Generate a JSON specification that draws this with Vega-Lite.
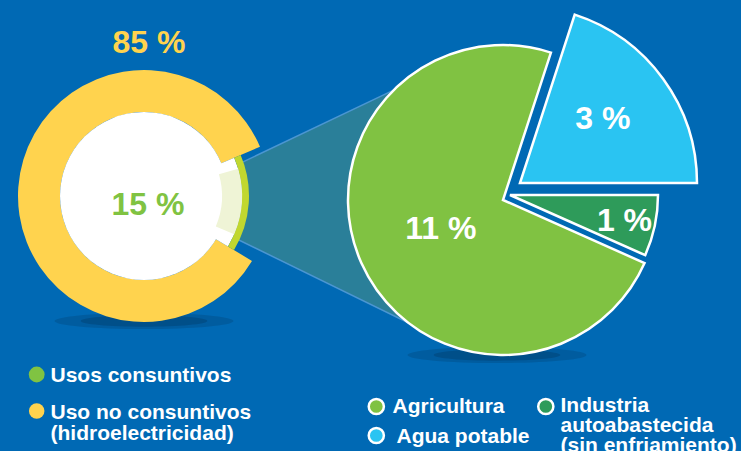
{
  "$schema": "https://vega.github.io/schema/vega-lite/v6.json",
  "width": 741,
  "height": 451,
  "autosize": {"type": "none"},
  "padding": 0,
  "background": "#0069b4",
  "config": {"view": {"stroke": null}, "text": {"font": "Liberation Sans", "fontWeight": "bold"}},
  "datasets": {
    "uso": [
      {"uso": "Uso no consuntivos (hidroelectricidad)", "porcentaje": 85},
      {"uso": "Usos consuntivos", "porcentaje": 15}
    ],
    "consuntivo": [
      {"sector": "Agricultura", "porcentaje": 11},
      {"sector": "Agua potable", "porcentaje": 3},
      {"sector": "Industria autoabastecida (sin enfriamiento)", "porcentaje": 1}
    ]
  },
  "data": {"values": [{}]},
  "layer": [
    {"mark": {"type": "point", "shape": "M-1,0A1,0.09,0,1,1,1,0A1,0.09,0,1,1,-1,0Z", "x": 144, "y": 321, "size": 32000, "filled": true, "fill": "#003660", "opacity": 0.25, "strokeWidth": 0}},
    {"mark": {"type": "point", "shape": "M-1,0A1,0.09,0,1,1,1,0A1,0.09,0,1,1,-1,0Z", "x": 144, "y": 321, "size": 16000, "filled": true, "fill": "#003660", "opacity": 0.35, "strokeWidth": 0}},
    {"mark": {"type": "point", "shape": "M-1,0A1,0.09,0,1,1,1,0A1,0.09,0,1,1,-1,0Z", "x": 497, "y": 355, "size": 32000, "filled": true, "fill": "#003660", "opacity": 0.25, "strokeWidth": 0}},
    {"mark": {"type": "point", "shape": "M-1,0A1,0.09,0,1,1,1,0A1,0.09,0,1,1,-1,0Z", "x": 497, "y": 355, "size": 16000, "filled": true, "fill": "#003660", "opacity": 0.35, "strokeWidth": 0}},
    {"mark": {"type": "arc", "x": 160, "y": 201.5, "theta": 1.126, "theta2": 2.025, "innerRadius": 60, "outerRadius": 300, "fill": "#2a7f99", "stroke": "#4b96d2", "strokeWidth": 1.5}},
    {
      "data": {"name": "uso"},
      "transform": [
        {"stack": "porcentaje", "groupby": [], "sort": [{"field": "porcentaje", "order": "descending"}], "as": ["t0", "t1"]},
        {"filter": "datum.uso == 'Uso no consuntivos (hidroelectricidad)'"}
      ],
      "mark": {"type": "arc", "x": 144, "y": 196, "innerRadius": 84, "outerRadius": 126},
      "encoding": {
        "theta": {"field": "t0", "type": "quantitative", "scale": {"domain": [0, 100], "range": [2.112, 8.395]}},
        "theta2": {"field": "t1"},
        "color": {"field": "uso", "type": "nominal", "legend": null,
          "scale": {"domain": ["Uso no consuntivos (hidroelectricidad)", "Usos consuntivos", "Agricultura", "Agua potable", "Industria autoabastecida (sin enfriamiento)"], "range": ["#ffd34e", "#80c342", "#80c242", "#2ac4f2", "#2e9b5a"]}}
      }
    },
    {"mark": {"type": "arc", "x": 144, "y": 196, "theta": 0, "theta2": 6.2832, "innerRadius": 0, "outerRadius": 84, "fill": "#ffffff"}},
    {
      "data": {"name": "uso"},
      "transform": [
        {"stack": "porcentaje", "groupby": [], "sort": [{"field": "porcentaje", "order": "descending"}], "as": ["t0", "t1"]},
        {"filter": "datum.uso == 'Usos consuntivos'"}
      ],
      "layer": [
        {"mark": {"type": "arc", "x": 144, "y": 196, "innerRadius": 0, "outerRadius": 98, "fill": "#ffffff"},
          "encoding": {"theta": {"field": "t0", "type": "quantitative", "scale": {"domain": [0, 100], "range": [2.112, 8.395]}}, "theta2": {"field": "t1"}}},
        {"mark": {"type": "arc", "x": 144, "y": 196, "innerRadius": 98, "outerRadius": 105, "fill": "#c1d72f"},
          "encoding": {"theta": {"field": "t0", "type": "quantitative", "scale": {"domain": [0, 100], "range": [2.112, 8.395]}}, "theta2": {"field": "t1"}}},
        {"mark": {"type": "arc", "x": 144, "y": 196, "innerRadius": 78, "outerRadius": 98, "fill": "#eff4d6", "thetaOffset": 0.12, "theta2Offset": -0.14},
          "encoding": {"theta": {"field": "t0", "type": "quantitative", "scale": {"domain": [0, 100], "range": [2.112, 8.395]}}, "theta2": {"field": "t1"}}}
      ]
    },
    {
      "data": {"name": "consuntivo"},
      "transform": [
        {"stack": "porcentaje", "groupby": [], "sort": [{"field": "porcentaje", "order": "descending"}], "as": ["t0", "t1"]},
        {"calculate": "(datum.t0 + datum.t1) / 2", "as": "mid"},
        {"calculate": "datum.porcentaje + ' %'", "as": "etiqueta"}
      ],
      "layer": [
        {"transform": [{"filter": "datum.sector == 'Agricultura'"}],
          "mark": {"type": "arc", "x": 503, "y": 200, "outerRadius": 155, "innerRadius": 0, "stroke": "#ffffff", "strokeWidth": 2.5},
          "encoding": {"theta": {"field": "t0", "type": "quantitative", "scale": {"domain": [0, 15], "range": [1.99, 8.273]}}, "theta2": {"field": "t1"},
            "color": {"field": "sector", "type": "nominal", "legend": null,
              "scale": {"domain": ["Uso no consuntivos (hidroelectricidad)", "Usos consuntivos", "Agricultura", "Agua potable", "Industria autoabastecida (sin enfriamiento)"], "range": ["#ffd34e", "#80c342", "#80c242", "#2ac4f2", "#2e9b5a"]}}}},
        {"transform": [{"filter": "datum.sector == 'Agua potable'"}],
          "mark": {"type": "arc", "x": 520, "y": 183, "outerRadius": 177, "innerRadius": 0, "stroke": "#ffffff", "strokeWidth": 2.5},
          "encoding": {"theta": {"field": "t0", "type": "quantitative", "scale": {"domain": [0, 15], "range": [1.99, 8.273]}}, "theta2": {"field": "t1"},
            "color": {"field": "sector", "type": "nominal", "legend": null,
              "scale": {"domain": ["Uso no consuntivos (hidroelectricidad)", "Usos consuntivos", "Agricultura", "Agua potable", "Industria autoabastecida (sin enfriamiento)"], "range": ["#ffd34e", "#80c342", "#80c242", "#2ac4f2", "#2e9b5a"]}}}},
        {"transform": [{"filter": "datum.sector == 'Industria autoabastecida (sin enfriamiento)'"}],
          "mark": {"type": "arc", "x": 510, "y": 195, "outerRadius": 148, "innerRadius": 0, "stroke": "#ffffff", "strokeWidth": 2.5},
          "encoding": {"theta": {"field": "t0", "type": "quantitative", "scale": {"domain": [0, 15], "range": [1.99, 8.273]}}, "theta2": {"field": "t1"},
            "color": {"field": "sector", "type": "nominal", "legend": null,
              "scale": {"domain": ["Uso no consuntivos (hidroelectricidad)", "Usos consuntivos", "Agricultura", "Agua potable", "Industria autoabastecida (sin enfriamiento)"], "range": ["#ffd34e", "#80c342", "#80c242", "#2ac4f2", "#2e9b5a"]}}}},
        {"transform": [{"filter": "datum.sector == 'Agricultura'"}],
          "mark": {"type": "text", "x": 503, "y": 200, "radius": 68, "fontSize": 32, "color": "#ffffff", "align": "center", "baseline": "alphabetic", "dy": 11.5},
          "encoding": {"theta": {"field": "mid", "type": "quantitative", "stack": null, "scale": {"domain": [0, 15], "range": [1.99, 8.273]}}, "text": {"field": "etiqueta"}}},
        {"transform": [{"filter": "datum.sector == 'Agua potable'"}],
          "mark": {"type": "text", "x": 520, "y": 183, "radius": 106, "fontSize": 32, "color": "#ffffff", "align": "center", "baseline": "alphabetic", "dy": 8, "dx": -3},
          "encoding": {"theta": {"field": "mid", "type": "quantitative", "stack": null, "scale": {"domain": [0, 15], "range": [1.99, 8.273]}}, "text": {"field": "etiqueta"}}},
        {"transform": [{"filter": "datum.sector == 'Industria autoabastecida (sin enfriamiento)'"}],
          "mark": {"type": "text", "x": 510, "y": 195, "radius": 117, "fontSize": 32, "color": "#ffffff", "align": "center", "baseline": "alphabetic", "dy": 11.5},
          "encoding": {"theta": {"field": "mid", "type": "quantitative", "stack": null, "scale": {"domain": [0, 15], "range": [1.99, 8.273]}}, "text": {"field": "etiqueta"}}}
      ]
    },
    {
      "data": {"name": "uso"},
      "transform": [{"calculate": "datum.porcentaje + ' %'", "as": "etiqueta"}],
      "layer": [
        {"transform": [{"filter": "datum.uso == 'Uso no consuntivos (hidroelectricidad)'"}],
          "mark": {"type": "text", "x": 149, "y": 53, "fontSize": 32, "align": "center", "baseline": "alphabetic"},
          "encoding": {"text": {"field": "etiqueta"},
            "color": {"field": "uso", "type": "nominal", "legend": null,
              "scale": {"domain": ["Uso no consuntivos (hidroelectricidad)", "Usos consuntivos", "Agricultura", "Agua potable", "Industria autoabastecida (sin enfriamiento)"], "range": ["#ffd34e", "#80c342", "#80c242", "#2ac4f2", "#2e9b5a"]}}}},
        {"transform": [{"filter": "datum.uso == 'Usos consuntivos'"}],
          "mark": {"type": "text", "x": 148, "y": 215, "fontSize": 32, "align": "center", "baseline": "alphabetic"},
          "encoding": {"text": {"field": "etiqueta"},
            "color": {"field": "uso", "type": "nominal", "legend": null,
              "scale": {"domain": ["Uso no consuntivos (hidroelectricidad)", "Usos consuntivos", "Agricultura", "Agua potable", "Industria autoabastecida (sin enfriamiento)"], "range": ["#ffd34e", "#80c342", "#80c242", "#2ac4f2", "#2e9b5a"]}}}},
        {"transform": [{"filter": "datum.uso == 'Usos consuntivos'"}],
          "mark": {"type": "point", "shape": "circle", "filled": true, "x": 36.7, "y": 374.5, "size": 250, "opacity": 1, "strokeWidth": 0},
          "encoding": {"color": {"field": "uso", "type": "nominal", "legend": null,
              "scale": {"domain": ["Uso no consuntivos (hidroelectricidad)", "Usos consuntivos", "Agricultura", "Agua potable", "Industria autoabastecida (sin enfriamiento)"], "range": ["#ffd34e", "#80c342", "#80c242", "#2ac4f2", "#2e9b5a"]}}}},
        {"transform": [{"filter": "datum.uso == 'Uso no consuntivos (hidroelectricidad)'"}],
          "mark": {"type": "point", "shape": "circle", "filled": true, "x": 36.7, "y": 411, "size": 240, "opacity": 1, "strokeWidth": 0},
          "encoding": {"color": {"field": "uso", "type": "nominal", "legend": null,
              "scale": {"domain": ["Uso no consuntivos (hidroelectricidad)", "Usos consuntivos", "Agricultura", "Agua potable", "Industria autoabastecida (sin enfriamiento)"], "range": ["#ffd34e", "#80c342", "#80c242", "#2ac4f2", "#2e9b5a"]}}}},
        {"transform": [{"filter": "datum.uso == 'Usos consuntivos'"}],
          "mark": {"type": "text", "x": 50.5, "y": 381.7, "fontSize": 21, "align": "left", "baseline": "alphabetic", "color": "#ffffff"},
          "encoding": {"text": {"field": "uso"}}},
        {"mark": {"type": "text", "x": 50.5, "y": 418.5, "fontSize": 21, "align": "left", "baseline": "alphabetic", "color": "#ffffff", "lineHeight": 21},
          "encoding": {"text": {"value": ["Uso no consuntivos", "(hidroelectricidad)"]}},
          "transform": [{"filter": "datum.uso == 'Uso no consuntivos (hidroelectricidad)'"}]}
      ]
    },
    {"mark": {"type": "rule", "x": 310, "y": 389, "y2": 426, "strokeDash": [0.1, 5.3], "strokeCap": "round", "strokeWidth": 4.5, "color": "#b6d335"}, "encoding": {}},
    {
      "data": {"name": "consuntivo"},
      "layer": [
        {"transform": [{"filter": "datum.sector == 'Agricultura'"}],
          "mark": {"type": "point", "shape": "circle", "filled": true, "x": 376.3, "y": 406.5, "size": 230, "opacity": 1, "stroke": "#ffffff", "strokeWidth": 2.5},
          "encoding": {"fill": {"field": "sector", "type": "nominal", "legend": null,
              "scale": {"domain": ["Agricultura", "Agua potable", "Industria autoabastecida (sin enfriamiento)"], "range": ["#80c242", "#2ac4f2", "#2e9b5a"]}}}},
        {"transform": [{"filter": "datum.sector == 'Agua potable'"}],
          "mark": {"type": "point", "shape": "circle", "filled": true, "x": 376.3, "y": 435.5, "size": 230, "opacity": 1, "stroke": "#ffffff", "strokeWidth": 2.5},
          "encoding": {"fill": {"field": "sector", "type": "nominal", "legend": null,
              "scale": {"domain": ["Agricultura", "Agua potable", "Industria autoabastecida (sin enfriamiento)"], "range": ["#80c242", "#2ac4f2", "#2e9b5a"]}}}},
        {"transform": [{"filter": "datum.sector == 'Industria autoabastecida (sin enfriamiento)'"}],
          "mark": {"type": "point", "shape": "circle", "filled": true, "x": 545.8, "y": 406.5, "size": 230, "opacity": 1, "stroke": "#ffffff", "strokeWidth": 2.5},
          "encoding": {"fill": {"field": "sector", "type": "nominal", "legend": null,
              "scale": {"domain": ["Agricultura", "Agua potable", "Industria autoabastecida (sin enfriamiento)"], "range": ["#80c242", "#2ac4f2", "#2e9b5a"]}}}},
        {"transform": [{"filter": "datum.sector == 'Agricultura'"}],
          "mark": {"type": "text", "x": 392.5, "y": 413, "fontSize": 21, "align": "left", "baseline": "alphabetic", "color": "#ffffff"},
          "encoding": {"text": {"field": "sector"}}},
        {"transform": [{"filter": "datum.sector == 'Agua potable'"}],
          "mark": {"type": "text", "x": 396.5, "y": 443, "fontSize": 21, "align": "left", "baseline": "alphabetic", "color": "#ffffff"},
          "encoding": {"text": {"field": "sector"}}},
        {"transform": [{"filter": "datum.sector == 'Industria autoabastecida (sin enfriamiento)'"}],
          "mark": {"type": "text", "x": 560.5, "y": 412, "fontSize": 21, "align": "left", "baseline": "alphabetic", "color": "#ffffff", "lineHeight": 20},
          "encoding": {"text": {"value": ["Industria", "autoabastecida", "(sin enfriamiento)"]}}}
      ]
    }
  ],
  "resolve": {"scale": {"theta": "independent"}}
}
